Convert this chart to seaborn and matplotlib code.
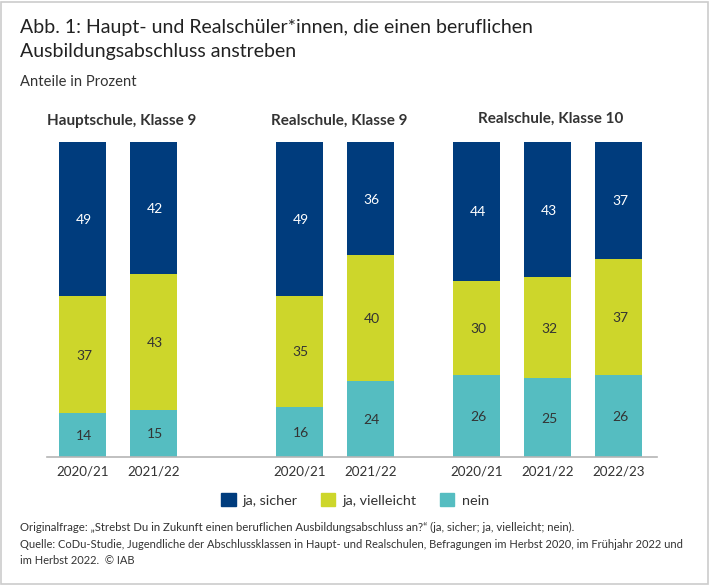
import numpy as np
import pandas as pd
import seaborn as sns
import matplotlib.pyplot as plt
from matplotlib.patches import Rectangle

W, H = 710, 585

years = ["2020/21", "2021/22", "2020/21", "2021/22", "2020/21", "2021/22", "2022/23"]
sicher = [49, 42, 49, 36, 44, 43, 37]
vielleicht = [37, 43, 35, 40, 30, 32, 37]
nein = [14, 15, 16, 24, 26, 25, 26]
groups = ["Hauptschule, Klasse 9", "Realschule, Klasse 9", "Realschule, Klasse 10"]
legend_names = ["ja, sicher", "ja, vielleicht", "nein"]

navy = "#003C7D"
yellow = "#CDD62B"
teal = "#55BDC1"
dark = "#333333"

sns.set_theme(style="white")
plt.rcParams["font.family"] = ["Lato", "DejaVu Sans"]

# bar slots, one unit = distance between two bars
slots = [0, 1, 3.056, 4.056, 5.55, 6.55, 7.55]
df = pd.DataFrame({"slot": slots, "year": years, "sicher": sicher,
                   "vielleicht": vielleicht, "nein": nein})

fig = plt.figure(figsize=(W / 100, H / 100), dpi=100)
ax = fig.add_axes([47 / W, 1 - 457 / H, 610 / W, 315 / H])

bw = 47 / 71
sns.barplot(data=df, x="slot", y="nein", native_scale=True, color=teal,
            saturation=1, width=bw, linewidth=0, ax=ax)
sns.barplot(data=df, x="slot", y="vielleicht", native_scale=True, color=yellow,
            saturation=1, width=bw, linewidth=0, bottom=df["nein"].values, ax=ax)
sns.barplot(data=df, x="slot", y="sicher", native_scale=True, color=navy,
            saturation=1, width=bw, linewidth=0, bottom=(df["nein"] + df["vielleicht"]).values, ax=ax)

ax.set_xlim((47 - 82.5) / 71, (657 - 82.5) / 71)
ax.set_ylim(0, 100)
ax.set_xlabel("")
ax.set_ylabel("")
ax.set_yticks([])
ax.set_xticks(slots)
ax.set_xticklabels(years, fontsize=9.6, color=dark)
ax.tick_params(axis="x", length=0, pad=6)
sns.despine(ax=ax, left=True)
ax.spines["bottom"].set_color("#b5b5b5")
ax.spines["bottom"].set_linewidth(1.2)

# small nudge so the numbers sit where they do in the original
dx, dy = 0.02, -0.3
for i, s in enumerate(slots):
    n, v, j = nein[i], vielleicht[i], sicher[i]
    ax.text(s + dx, n / 2 + dy, str(n), ha="center", va="center", fontsize=10, color=dark)
    ax.text(s + dx, n + v / 2 + dy, str(v), ha="center", va="center", fontsize=10, color=dark)
    ax.text(s + dx, n + v + j / 2 + dy, str(j), ha="center", va="center", fontsize=10, color="white")


def txt(x, y, s, **kw):
    fig.text(x / W, 1 - y / H, s, va="center", **kw)


txt(20, 28, "Abb. 1: Haupt- und Realschüler*innen, die einen beruflichen", fontsize=14, color="#222222")
txt(20, 52, "Ausbildungsabschluss anstreben", fontsize=14, color="#222222")
txt(20, 82, "Anteile in Prozent", fontsize=10.6, color=dark)

txt(121.5, 121, groups[0], fontsize=11, color=dark, fontweight="bold", ha="center")
txt(339, 121, groups[1], fontsize=11, color=dark, fontweight="bold", ha="center")
txt(551, 119, groups[2], fontsize=11, color=dark, fontweight="bold", ha="center")

handles = [Rectangle((0, 0), 1, 1, color=c) for c in (navy, yellow, teal)]
fig.legend(handles, legend_names, loc="center", bbox_to_anchor=(355 / W, 1 - 500 / H), ncol=3,
           frameon=False, fontsize=10.4, labelcolor=dark, handlelength=1, handleheight=1,
           handletextpad=0.5, columnspacing=1.6)

txt(20, 527, "Originalfrage: „Strebst Du in Zukunft einen beruflichen Ausbildungsabschluss an?“ (ja, sicher; ja, vielleicht; nein).",
    fontsize=8.2, color=dark)
txt(20, 544, "Quelle: CoDu-Studie, Jugendliche der Abschlussklassen in Haupt- und Realschulen, Befragungen im Herbst 2020, im Frühjahr 2022 und",
    fontsize=8.05, color=dark)
txt(20, 560, "im Herbst 2022.  © IAB", fontsize=8.05, color=dark)

# light frame round the whole figure
fig.add_artist(Rectangle((1.5 / W, 1 / H), 706 / W, 1 - 3 / H, transform=fig.transFigure,
                         fill=False, edgecolor="#cccccc", linewidth=1.2))

fig.savefig("out.png", dpi=100)
